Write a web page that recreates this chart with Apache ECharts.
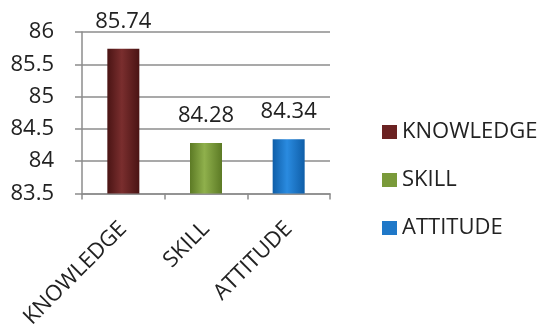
<!DOCTYPE html>
<html>
<head>
<meta charset="utf-8">
<script src="https://cdn.jsdelivr.net/npm/echarts@6/dist/echarts.min.js"></script>
<style>html,body{margin:0;padding:0;background:#fff}#c{width:548px;height:331px}</style>
</head>
<body>
<div id="c"></div>
<script>
const categories = ['KNOWLEDGE', 'SKILL', 'ATTITUDE'];
const values = [85.74, 84.28, 84.34];
const yTicks = [83.5, 84, 84.5, 85, 85.5, 86];
const colorStops = [
  ['#4a1414', '#7a2e2e', '#4a1414'],
  ['#5c7a25', '#8fb04c', '#5c7a25'],
  ['#0f5ea8', '#2a8be0', '#0f5ea8']
];
const legendColors = ['#6b2222', '#7a9a3a', '#1f78c8'];
const FONT = 'Open Sans';

const series = categories.map((name, i) => ({
  name: name,
  type: 'bar',
  barWidth: 32,
  barGap: '-100%',
  itemStyle: {color: legendColors[i]},
  label: {
    show: true, position: 'top', distance: 16,
    fontFamily: FONT, fontSize: 22, color: '#222'
  },
  data: categories.map((c, j) => j === i ? {
    value: values[i],
    itemStyle: {
      color: {
        type: 'linear', x: 0, y: 0, x2: 1, y2: 0,
        colorStops: [
          {offset: 0, color: colorStops[i][0]},
          {offset: 0.45, color: colorStops[i][1]},
          {offset: 1, color: colorStops[i][2]}
        ]
      }
    }
  } : '-')
}));

const chart = echarts.init(document.getElementById('c'));
chart.setOption({
  animation: false,
  textStyle: {fontFamily: FONT},
  grid: {left: 82, right: 218, top: 32, bottom: 136},
  legend: {
    orient: 'vertical', left: 377, top: 116,
    itemWidth: 15, itemHeight: 14, itemGap: 26,
    icon: 'rect',
    textStyle: {fontFamily: FONT, fontSize: 22, color: '#222'},
    data: categories.map((c, i) => ({name: c, itemStyle: {color: legendColors[i]}}))
  },
  xAxis: {
    type: 'category', data: categories,
    axisLine: {lineStyle: {color: '#8c8c8c', width: 1.5}},
    axisTick: {show: true, length: 6, lineStyle: {color: '#8c8c8c', width: 1.5}},
    axisLabel: {rotate: 45, margin: 32, fontFamily: FONT, fontSize: 22, color: '#222'}
  },
  yAxis: {
    type: 'value', min: yTicks[0], max: yTicks[yTicks.length - 1], interval: 0.5,
    axisLine: {show: true, lineStyle: {color: '#8c8c8c', width: 1.5}},
    axisTick: {show: true, length: 7, lineStyle: {color: '#8c8c8c', width: 1.5}},
    splitLine: {lineStyle: {color: '#8c8c8c', width: 1.5}},
    axisLabel: {margin: 28, fontFamily: FONT, fontSize: 22, color: '#222'}
  },
  series: series
});
</script>
</body>
</html>
